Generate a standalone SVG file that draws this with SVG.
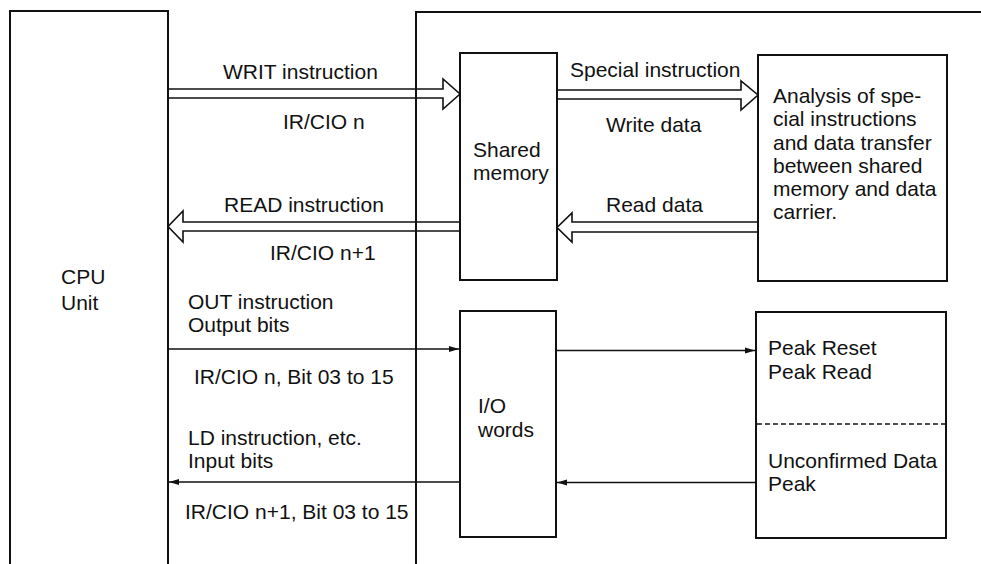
<svg xmlns="http://www.w3.org/2000/svg" width="981" height="564" viewBox="0 0 981 564">
  <style>
    .box { fill: none; stroke: #111; stroke-width: 2; }
    .dbl { fill: none; stroke: #111; stroke-width: 1.6; stroke-linejoin: miter; }
    .sgl { fill: none; stroke: #111; stroke-width: 1.6; }
    .dash { stroke: #111; stroke-width: 1.6; stroke-dasharray: 5 3; }
    text { font-family: "Liberation Sans", Arial, sans-serif; font-size: 21px; fill: #111; }
  </style>
  <defs>
    <marker id="ah" viewBox="0 0 10 8" refX="10" refY="4" markerWidth="10" markerHeight="8" markerUnits="userSpaceOnUse" orient="auto">
      <path d="M0,1 L10,4 L0,7 Z" fill="#111"/>
    </marker>
  </defs>
  <rect width="981" height="564" fill="#fff"/>

  <g id="cpu-unit">
    <path class="box" d="M10,570 V11 H168 V570"/>
    <text x="61" y="284">CPU</text>
    <text x="61" y="310">Unit</text>
  </g>

  <g id="id-unit">
    <path class="box" d="M416,570 V12 H990"/>
  </g>

  <g id="shared-memory">
    <rect class="box" x="460" y="53" width="97" height="227"/>
    <text x="473" y="157">Shared</text>
    <text x="473" y="180">memory</text>
  </g>

  <g id="analysis">
    <rect class="box" x="758" y="55" width="189" height="226"/>
    <text x="773" y="103">Analysis of spe-</text>
    <text x="773" y="126">cial instructions</text>
    <text x="773" y="150">and data transfer</text>
    <text x="773" y="173">between shared</text>
    <text x="773" y="196">memory and data</text>
    <text x="773" y="219">carrier.</text>
  </g>

  <g id="io-words">
    <rect class="box" x="460" y="311" width="96" height="226"/>
    <text x="478" y="413">I/O</text>
    <text x="478" y="437">words</text>
  </g>

  <g id="peak">
    <rect class="box" x="756" y="312" width="190" height="226"/>
    <line class="dash" x1="757" y1="424" x2="945" y2="424"/>
    <text x="768" y="355">Peak Reset</text>
    <text x="768" y="379">Peak Read</text>
    <text x="768" y="468">Unconfirmed Data</text>
    <text x="768" y="491">Peak</text>
  </g>

  <g id="connectors">
    <path class="dbl" d="M168,89 H443 V79 L460,94 L443,109 V98 H168"/>
    <path class="dbl" d="M460,222 H183 V211 L168,226.5 L183,242 V231 H460"/>
    <path class="dbl" d="M557,90 H741 V81 L758,95 L741,110 V99 H557"/>
    <path class="dbl" d="M758,222 H572 V213 L557,227.5 L572,242 V232 H758"/>
    <line class="sgl" x1="168" y1="349" x2="459" y2="349" marker-end="url(#ah)"/>
    <line class="sgl" x1="557" y1="350.5" x2="755" y2="350.5" marker-end="url(#ah)"/>
    <line class="sgl" x1="460" y1="482" x2="169" y2="482" marker-end="url(#ah)"/>
    <line class="sgl" x1="756" y1="482.5" x2="557" y2="482.5" marker-end="url(#ah)"/>
  </g>

  <g id="labels">
    <text x="223" y="79">WRIT instruction</text>
    <text x="283" y="129">IR/CIO n</text>
    <text x="224" y="212">READ instruction</text>
    <text x="270" y="260">IR/CIO n+1</text>
    <text x="570" y="77">Special instruction</text>
    <text x="606" y="132">Write data</text>
    <text x="606" y="212">Read data</text>
    <text x="188" y="309">OUT instruction</text>
    <text x="188" y="332">Output bits</text>
    <text x="194" y="384">IR/CIO n, Bit 03 to 15</text>
    <text x="188" y="445">LD instruction, etc.</text>
    <text x="188" y="468">Input bits</text>
    <text x="185" y="519">IR/CIO n+1, Bit 03 to 15</text>
  </g>
</svg>
